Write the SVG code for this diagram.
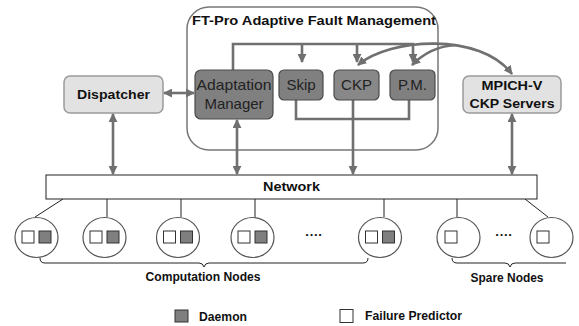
<svg xmlns="http://www.w3.org/2000/svg" width="579" height="326" viewBox="0 0 579 326">
<style>
.b{font-family:"Liberation Sans",Arial,sans-serif;font-weight:bold;fill:#111}
.r{font-family:"Liberation Sans",Arial,sans-serif;fill:#222;font-size:15px}
.inner{fill:#808080;stroke:#4a4a4a;stroke-width:1.2}
.light{fill:#e2e2e2;stroke:#9a9a9a;stroke-width:1.5}
.c{fill:none;stroke:#707070;stroke-width:2.6}
.t{fill:none;stroke:#222;stroke-width:1}
.node{fill:#fff;stroke:#555;stroke-width:1.2}
.w{fill:#fff;stroke:#333;stroke-width:1}
.g{fill:#7f7f7f;stroke:#333;stroke-width:1}
</style>
<defs>
<marker id="ah" viewBox="0 0 10 10" refX="9" refY="5" markerWidth="9" markerHeight="9" markerUnits="userSpaceOnUse" orient="auto-start-reverse">
<path d="M0,0 L10,5 L0,10 z" fill="#707070"/>
</marker>
</defs>
<rect width="579" height="326" fill="#fff"/>
<g id="ftpro">
<rect x="187" y="7" width="251" height="143" rx="22" fill="#fff" stroke="#777" stroke-width="1.5"/>
<text class="b" x="192" y="25" font-size="13" textLength="244" lengthAdjust="spacingAndGlyphs">FT-Pro Adaptive Fault Management</text>
</g>
<g id="dispatcher">
<rect class="light" x="64" y="76" width="99" height="37" rx="6"/>
<text class="b" x="113.5" y="99" font-size="13" text-anchor="middle" textLength="73" lengthAdjust="spacingAndGlyphs">Dispatcher</text>
</g>
<g id="mpich">
<rect class="light" x="463" y="76" width="98" height="37" rx="6"/>
<text class="b" x="512" y="90" font-size="13" text-anchor="middle" textLength="61" lengthAdjust="spacingAndGlyphs">MPICH-V</text>
<text class="b" x="512" y="108" font-size="13" text-anchor="middle" textLength="85" lengthAdjust="spacingAndGlyphs">CKP Servers</text>
</g>
<g id="connectors">
<path class="c" d="M233,70 V44 H413 V62" marker-end="url(#ah)"/>
<path class="c" d="M302,44 V62" marker-end="url(#ah)"/>
<path class="c" d="M357,44 V62" marker-end="url(#ah)"/>
<path class="c" d="M296,100 V119 H409 V100"/>
<path class="c" d="M353,100 V174" marker-end="url(#ah)"/>
<path class="c" d="M237,120 V174" marker-start="url(#ah)" marker-end="url(#ah)"/>
<path class="c" d="M164,93 H194" marker-start="url(#ah)" marker-end="url(#ah)"/>
<path class="c" d="M113,114 V174" marker-start="url(#ah)" marker-end="url(#ah)"/>
<path class="c" d="M512,114 V174" marker-start="url(#ah)" marker-end="url(#ah)"/>
<path class="c" d="M358,65 C390,38 480,32 512,74" marker-start="url(#ah)" marker-end="url(#ah)"/>
<path class="c" d="M412,65 C425,52 440,46 455,45" marker-start="url(#ah)"/>
<path class="t" d="M63,199 L35,217 M107,199 V217 M181,199 V217 M255,199 V217 M384,199 V217 M457,199 V217 M525,199 L548,217"/>
<path class="t" d="M40,258 Q40,263 45,263 H199 Q203,263 204,267 Q205,263 209,263 H363 Q368,263 368,258"/>
<path class="t" d="M452,258 Q452,263 457,263 H505 Q509,263 510,267 Q511,263 515,263 H566"/>
</g>
<g id="adaptation-manager">
<rect class="inner" x="195" y="70" width="78" height="49" rx="6"/>
<text class="r" x="234" y="90" text-anchor="middle" textLength="75" lengthAdjust="spacingAndGlyphs">Adaptation</text>
<text class="r" x="234" y="109" text-anchor="middle">Manager</text>
</g>
<g id="skip">
<rect class="inner" x="279" y="70" width="44" height="30" rx="5"/>
<text class="r" x="301" y="90" text-anchor="middle">Skip</text>
</g>
<g id="ckp">
<rect class="inner" x="334" y="70" width="45" height="30" rx="5" style="fill:#888"/>
<text class="r" x="356.5" y="90" text-anchor="middle">CKP</text>
</g>
<g id="pm">
<rect class="inner" x="390" y="70" width="45" height="30" rx="5"/>
<text class="r" x="412.5" y="90" text-anchor="middle">P.M.</text>
</g>
<g id="network">
<rect x="46" y="175" width="491" height="24" fill="#fff" stroke="#222" stroke-width="1"/>
<text class="b" x="291.5" y="191" font-size="13" text-anchor="middle" textLength="57" lengthAdjust="spacingAndGlyphs">Network</text>
</g>
<g id="node1"><ellipse class="node" cx="36.5" cy="237.5" rx="21.5" ry="20"/><rect class="w" x="22" y="231" width="12" height="12"/><rect class="g" x="39" y="231" width="12" height="12"/></g>
<g id="node2"><ellipse class="node" cx="104.5" cy="237.5" rx="21.5" ry="20"/><rect class="w" x="90" y="231" width="12" height="12"/><rect class="g" x="107" y="231" width="12" height="12"/></g>
<g id="node3"><ellipse class="node" cx="178" cy="237.5" rx="21.5" ry="20"/><rect class="w" x="163.5" y="231" width="12" height="12"/><rect class="g" x="180.5" y="231" width="12" height="12"/></g>
<g id="node4"><ellipse class="node" cx="252.5" cy="237.5" rx="21.5" ry="20"/><rect class="w" x="238" y="231" width="12" height="12"/><rect class="g" x="255" y="231" width="12" height="12"/></g>
<g id="dots1"><text class="b" x="314" y="239" font-size="13" text-anchor="middle">····</text></g>
<g id="node5"><ellipse class="node" cx="380" cy="237.5" rx="21.5" ry="20"/><rect class="w" x="365.5" y="231" width="12" height="12"/><rect class="g" x="382.5" y="231" width="12" height="12"/></g>
<g id="spare1"><ellipse class="node" cx="458.5" cy="237.5" rx="21.5" ry="20"/><rect class="w" x="445" y="231" width="12" height="12"/></g>
<g id="dots2"><text class="b" x="504" y="239" font-size="13" text-anchor="middle">····</text></g>
<g id="spare2"><ellipse class="node" cx="551.5" cy="237.5" rx="21.5" ry="20"/><rect class="w" x="537" y="231" width="12" height="12"/></g>
<g id="labels">
<text class="b" x="203" y="281" font-size="12" text-anchor="middle" textLength="115" lengthAdjust="spacingAndGlyphs">Computation Nodes</text>
<text class="b" x="507" y="282" font-size="12" text-anchor="middle" textLength="73" lengthAdjust="spacingAndGlyphs">Spare Nodes</text>
</g>
<g id="legend">
<rect class="g" x="175" y="310" width="13" height="12"/>
<text class="b" x="199" y="321" font-size="12" textLength="48" lengthAdjust="spacingAndGlyphs">Daemon</text>
<rect class="w" x="340" y="309.5" width="13" height="13"/>
<text class="b" x="365" y="320" font-size="12" textLength="97" lengthAdjust="spacingAndGlyphs">Failure Predictor</text>
</g>
</svg>
